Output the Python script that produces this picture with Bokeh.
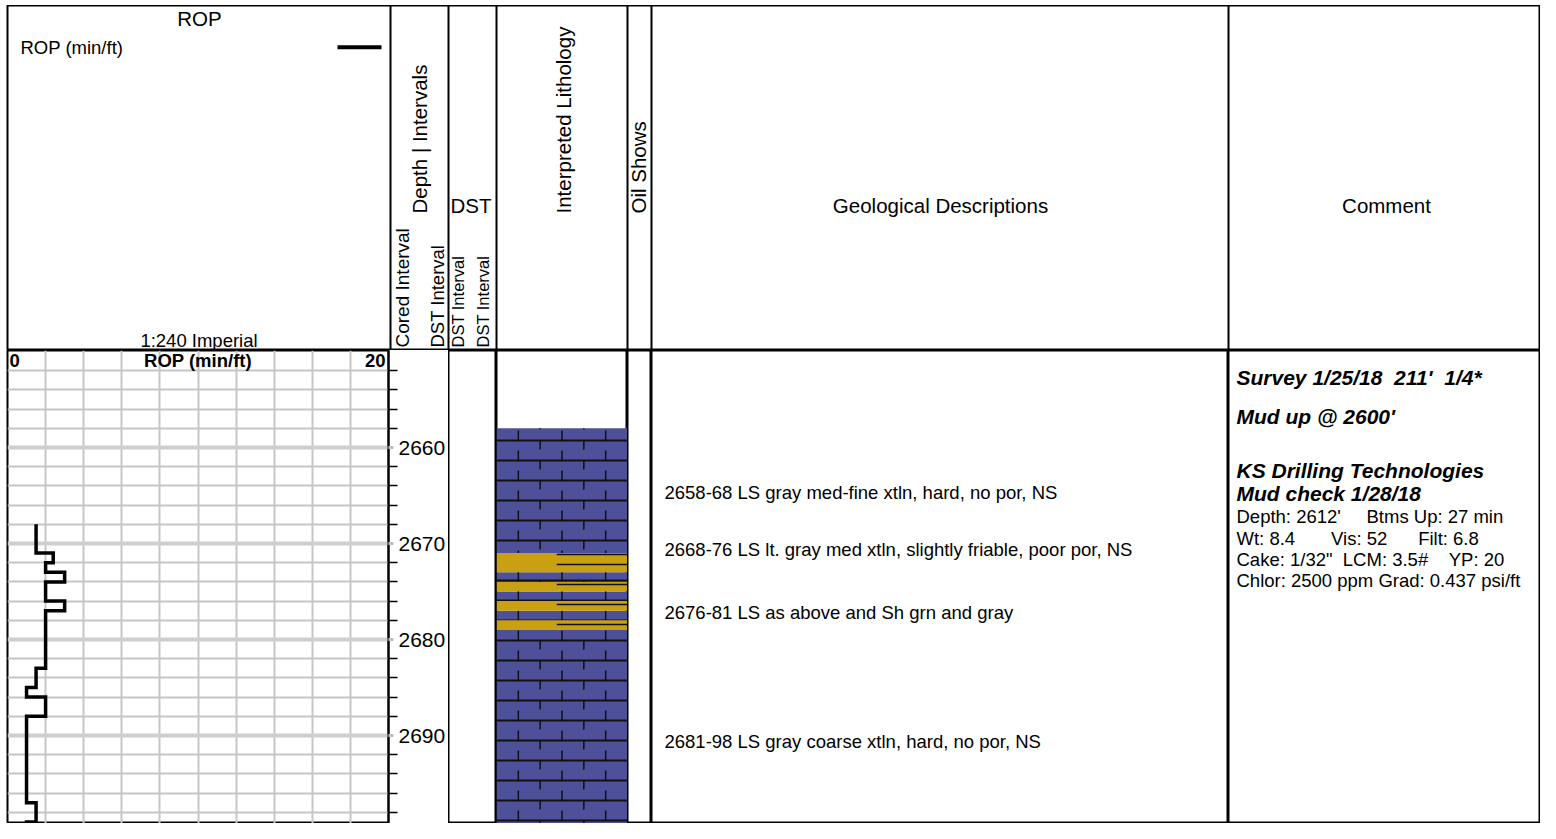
import math
import numpy as np
from bokeh.plotting import figure
from bokeh.layouts import row, column
from bokeh.models import Range1d, LinearAxis, FixedTicker, Grid
from bokeh.core.properties import value
from bokeh.embed import file_html
from bokeh.resources import INLINE

FONT = "Liberation Sans"

# ---------------- data ----------------
depth_top = 2650
depth_labels = [2660, 2670, 2680, 2690, 2700]
depth_minor = [d for d in range(2652, 2702, 2) if d % 10]
rop_min, rop_max = 0, 20
rop_grid = list(range(2, 20, 2))

rop_top = [2668, 2671, 2672, 2673, 2674, 2676, 2677, 2683, 2685, 2686, 2688, 2697, 2699, 2700]
rop_base = [2671, 2672, 2673, 2674, 2676, 2677, 2683, 2685, 2686, 2688, 2697, 2699, 2700, 2701]
rop_val = [1.5, 2.4, 2.0, 3.0, 2.0, 3.0, 2.0, 1.5, 1.0, 2.0, 1.0, 1.5, 1.0, 2.5]

lith_top = [2658, 2671, 2673, 2674, 2675, 2676, 2677, 2678, 2679]
lith_base = [2671, 2673, 2674, 2675, 2676, 2677, 2678, 2679, 2701]
lith_type = ["LS", "Sh", "LS", "Sh", "LS", "Sh", "LS", "Sh", "LS"]
lith_color = {"LS": "#4e5199", "Sh": "#c9a012"}

desc_text = [
    "2658-68 LS gray med-fine xtln, hard, no por, NS",
    "2668-76 LS lt. gray med xtln, slightly friable, poor por, NS",
    "2676-81 LS as above and Sh grn and gray",
    "2681-98 LS gray coarse xtln, hard, no por, NS",
]
desc_depth = [2664.7, 2670.6, 2677.2, 2690.6]

NB = "\u00a0"
comment_text = [
    "Survey 1/25/18 " + NB + "211' " + NB + "1/4*",
    "Mud up @ 2600'",
    "KS Drilling Technologies",
    "Mud check 1/28/18",
    "Depth: 2612' " + NB * 4 + "Btms Up: 27 min",
    "Wt: 8.4 " + NB * 6 + "Vis: 52 " + NB * 5 + "Filt: 6.8",
    "Cake: 1/32\" " + NB + "LCM: 3.5# " + NB * 3 + "YP: 20",
    "Chlor: 2500 ppm Grad: 0.437 psi/ft",
]
comment_depth = [2652.76, 2656.76, 2662.40, 2664.79, 2667.22, 2669.46, 2671.69, 2673.82]
comment_bold = [True, True, True, True, False, False, False, False]

printed_by = "Printed by GEOstrip VC Striplog version 4.0.8.15 (www.grsi.ca)"

# ---------------- layout constants ----------------
PAD_L, STRIP_H = 7, 5
W_ROP, W_DEPTH, W_DST, W_LITH, W_OIL, W_GEO, W_COM = 383, 58, 48, 131, 24, 577, 312
H_HEAD, H_DATA = 345, 473
TRACKS_W = W_ROP + W_DEPTH + W_DST + W_LITH + W_OIL + W_GEO + W_COM
TOTAL_W = PAD_L + TRACKS_W
PX_PER_FT = 9.6
view_top = depth_top - 1 / PX_PER_FT
view_bottom = view_top + H_DATA / PX_PER_FT
GRID_MINOR = "#c6c6c6"
GRID_MAJOR = "#cfcfcf"


def make_fig(w, h, xr, yr, **kw):
    opts = dict(width=w, height=h, x_range=xr, y_range=yr, output_backend="svg",
                toolbar_location=None, x_axis_location=None, y_axis_location=None,
                min_border=0, min_border_left=0, min_border_top=0, min_border_bottom=0,
                min_border_right=0)
    opts.update(kw)
    p = figure(**opts)
    p.center = []
    p.outline_line_color = "black"
    p.outline_line_width = 2
    p.background_fill_color = "white"
    p.border_fill_color = "white"
    return p


def txt(p, x, y, s, size, align="left", style="normal", angle=0.0, xo=0):
    p.text(x=[x], y=[y], text=[s], text_font=value(FONT), text_font_size=value(size),
           text_align=align, text_baseline="middle", text_font_style=style, angle=angle,
           x_offset=xo, text_color="black")


# ---------------- top strip (cropped printer line) ----------------
strip = make_fig(TOTAL_W, STRIP_H, Range1d(0, TOTAL_W), Range1d(STRIP_H, 0))
strip.outline_line_color = None
txt(strip, TOTAL_W - 2, -3.5, printed_by, "18.5px", align="right", style="bold italic")

# ---------------- header ----------------
hdr = make_fig(TOTAL_W, H_HEAD, Range1d(0, TRACKS_W), Range1d(H_HEAD, 0), min_border_left=PAD_L)
seps = list(np.cumsum([W_ROP, W_DEPTH, W_DST, W_LITH, W_OIL, W_GEO]))
hdr.segment(x0=seps, y0=[0] * len(seps), x1=seps, y1=[H_HEAD] * len(seps),
            line_color="black", line_width=2)
txt(hdr, 192, 12.5, "ROP", "20.5px", align="center")
txt(hdr, 13, 42, "ROP (min/ft)", "18.5px")
hdr.line(x=[330, 374], y=[41.7, 41.7], line_color="black", line_width=4)
txt(hdr, 191.5, 334.5, "1:240 Imperial", "18.5px", align="center")
up = math.pi / 2
txt(hdr, 394.5, 342, "Cored Interval", "19px", angle=up)
txt(hdr, 429.5, 342, "DST Interval", "18.5px", angle=up)
txt(hdr, 412, 208, "Depth | Intervals", "20.5px", angle=up)
txt(hdr, 443, 200, "DST", "20.5px")
txt(hdr, 450.5, 342, "DST Interval", "16.5px", angle=up)
txt(hdr, 475.5, 342, "DST Interval", "16.5px", angle=up)
txt(hdr, 556, 208, "Interpreted Lithology", "20.5px", angle=up)
txt(hdr, 631, 208, "Oil Shows", "20.5px", angle=up)
txt(hdr, 933, 200, "Geological Descriptions", "20.5px", align="center")
txt(hdr, 1379, 200, "Comment", "20.5px", align="center")

# ---------------- data tracks ----------------
yr = Range1d(view_bottom, view_top)

# ROP track with the depth axis on its right side
rop = make_fig(PAD_L + W_ROP + W_DEPTH, H_DATA, Range1d(rop_min, rop_max), yr,
               min_border_left=PAD_L, min_border_right=W_DEPTH)
rop.add_layout(Grid(dimension=0, ticker=FixedTicker(ticks=rop_grid),
                    grid_line_color=GRID_MINOR, grid_line_width=2))
rop.add_layout(Grid(dimension=1, ticker=FixedTicker(ticks=depth_labels, minor_ticks=depth_minor),
                    grid_line_color=GRID_MAJOR, grid_line_width=4,
                    minor_grid_line_color=GRID_MINOR, minor_grid_line_width=2))
ax = LinearAxis(ticker=FixedTicker(ticks=depth_labels, minor_ticks=depth_minor))
ax.axis_line_color = "black"
ax.axis_line_width = 2
ax.major_tick_in = 0
ax.major_tick_out = 5
ax.major_tick_line_color = "#c0c0c0"
ax.major_tick_line_width = 3
ax.minor_tick_in = 0
ax.minor_tick_out = 9
ax.minor_tick_line_color = "black"
ax.minor_tick_line_width = 1.5
ax.major_label_standoff = 1
ax.major_label_text_font = FONT
ax.major_label_text_font_size = "21px"
ax.major_label_text_color = "black"
rop.add_layout(ax, "right")

xs, ys = [], []
for t, b, v in zip(rop_top, rop_base, rop_val):
    xs += [v, v]
    ys += [t, b]
rop.line(x=xs, y=ys, line_color="black", line_width=3.5, line_join="miter")

scale_y = depth_top + 8.6 / PX_PER_FT
txt(rop, rop_min, scale_y, str(rop_min), "18.5px", style="bold", xo=2)
txt(rop, (rop_min + rop_max) / 2, scale_y, "ROP (min/ft)", "18.5px", align="center", style="bold")
txt(rop, rop_max, scale_y, str(rop_max), "18.5px", align="right", style="bold", xo=-3)

# DST track (empty)
dst = make_fig(W_DST, H_DATA, Range1d(0, 1), yr)

# Lithology track
lit = make_fig(W_LITH, H_DATA, Range1d(0, 1), yr)
ls_t = [t for t, k in zip(lith_top, lith_type) if k == "LS"]
ls_b = [b for b, k in zip(lith_base, lith_type) if k == "LS"]
sh_t = [t for t, k in zip(lith_top, lith_type) if k == "Sh"]
sh_b = [b for b, k in zip(lith_base, lith_type) if k == "Sh"]
lit.quad(left=0, right=1, top=ls_t, bottom=ls_b, fill_color=lith_color["LS"], line_color=None)

# limestone brick symbol
brick_h = 20 / PX_PER_FT
brick_phase = depth_top + 69 / PX_PER_FT
ls_lo, ls_hi = min(ls_t), max(ls_b)
rows = brick_phase + brick_h * np.arange(0, 40)
rows = rows[rows < ls_hi]
hy, vx, vy0, vy1 = [], [], [], []
for r in rows:
    if r > ls_lo:
        hy.append(r)
    for fx in (1 / 3, 2 / 3):
        a, b = max(r, ls_lo), min(r + 0.45 * brick_h, ls_hi)
        if b > a:
            vx.append(fx); vy0.append(a); vy1.append(b)
    for fx in (1 / 6, 1 / 2, 5 / 6):
        a, b = max(r + 0.5 * brick_h, ls_lo), min(r + brick_h, ls_hi)
        if b > a:
            vx.append(fx); vy0.append(a); vy1.append(b)
lit.segment(x0=[0] * len(hy), y0=hy, x1=[1] * len(hy), y1=hy, line_color="#111111", line_width=2)
lit.segment(x0=vx, y0=vy0, x1=vx, y1=vy1, line_color="#111111", line_width=1.5)

lit.quad(left=0, right=1, top=sh_t, bottom=sh_b, fill_color=lith_color["Sh"], line_color=None)
sh_pitch = 10 / PX_PER_FT
sh_phase = depth_top + 203 / PX_PER_FT
sl = sh_phase + sh_pitch * np.arange(-5, 60)
sl = [d for d in sl if any(t + 0.05 < d < b - 0.05 for t, b in zip(sh_t, sh_b))]
lit.segment(x0=[0.46] * len(sl), y0=sl, x1=[1] * len(sl), y1=sl, line_color="#111111", line_width=1.5)

# Oil shows (empty)
oil = make_fig(W_OIL, H_DATA, Range1d(0, 1), yr)

# Geological descriptions
geo = make_fig(W_GEO, H_DATA, Range1d(0, 1), yr)
for s, d in zip(desc_text, desc_depth):
    txt(geo, 0, d, s, "18.5px", xo=13)

# Comments
com = make_fig(W_COM, H_DATA, Range1d(0, 1), yr)
for s, d, bold in zip(comment_text, comment_depth, comment_bold):
    if bold:
        txt(com, 0, d, s, "21px", style="bold italic", xo=8)
    else:
        txt(com, 0, d, s, "18.5px", xo=8)

layout = column(strip, hdr, row(rop, dst, lit, oil, geo, com, spacing=0), spacing=0)

open("out.html", "w").write(file_html(layout, INLINE))
